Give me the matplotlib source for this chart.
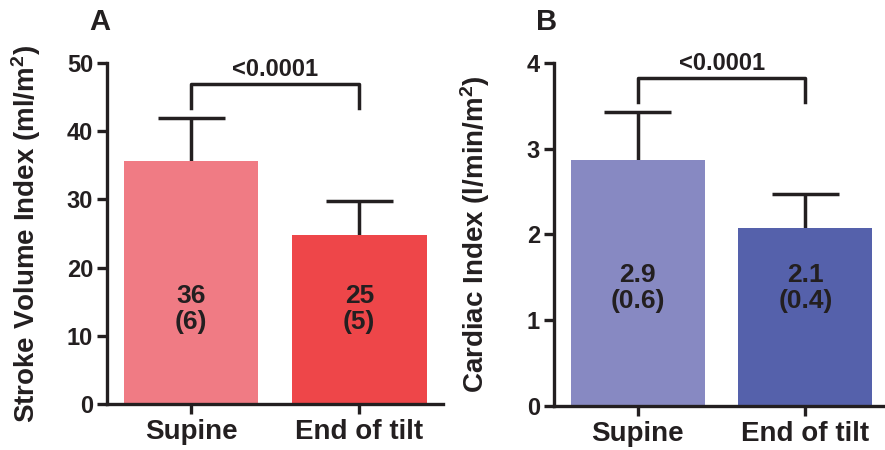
import matplotlib.pyplot as plt
import numpy as np

plt.rcParams['font.family'] = ['Liberation Sans', 'DejaVu Sans']
plt.rcParams['font.weight'] = 'bold'
plt.rcParams['axes.labelweight'] = 'bold'
plt.rcParams['mathtext.fontset'] = 'custom'
plt.rcParams['mathtext.bf'] = 'Liberation Sans:bold'
plt.rcParams['mathtext.rm'] = 'Liberation Sans:bold'
plt.rcParams['mathtext.default'] = 'bf'

ink = '#231f20'

# data
groups = ['Supine', 'End of tilt']
svi_mean = [35.7, 24.8]
svi_sd = [6.2, 4.9]
svi_text = ['36\n(6)', '25\n(5)']
ci_mean = [2.87, 2.08]
ci_sd = [0.56, 0.39]
ci_text = ['2.9\n(0.6)', '2.1\n(0.4)']
p_text = '<0.0001'

fig = plt.figure(figsize=(8.85, 4.5), dpi=100)
axA = fig.add_axes([0.121, 0.102, 0.380, 0.758])
axB = fig.add_axes([0.626, 0.098, 0.373, 0.762])


def panel(ax, means, sds, texts, colors, ylim, yticks, ylabel, xlim,
          text_y, br_y, br_foot, label_x):
    x = np.arange(len(means))
    means = np.array(means)
    sds = np.array(sds)
    ax.bar(x, means, width=0.8, color=colors, zorder=2)
    # upper-only error bars
    ax.vlines(x, means, means + sds, color=ink, lw=2.5, zorder=1)
    ax.hlines(means + sds, x - 0.2, x + 0.2, color=ink, lw=2.5, zorder=1)
    for xi, t in zip(x, texts):
        ax.text(xi, text_y, t, ha='center', va='center', fontsize=19,
                color=ink, linespacing=1.1)
    # significance bracket
    ax.plot([x[0], x[0], x[1], x[1]], [br_foot, br_y, br_y, br_foot],
            color=ink, lw=2.5, clip_on=False)
    ax.text(np.mean(x), br_y + (ylim[1] - ylim[0]) * 0.01, p_text,
            ha='center', va='bottom', fontsize=17, color=ink)
    ax.set_xlim(*xlim)
    ax.set_ylim(*ylim)
    ax.set_yticks(yticks)
    ax.set_xticks(x)
    ax.set_xticklabels(groups, fontsize=20)
    ax.set_ylabel(ylabel, fontsize=20, color=ink)
    ax.yaxis.set_label_coords(label_x, 0.5)
    for s in ['top', 'right']:
        ax.spines[s].set_visible(False)
    for s in ['left', 'bottom']:
        ax.spines[s].set_linewidth(2.4)
        ax.spines[s].set_color(ink)
    ax.tick_params(axis='y', length=7, width=2.4, color=ink, labelsize=17,
                   labelcolor=ink, pad=3)
    ax.tick_params(axis='x', length=7, width=2.4, color=ink,
                   labelcolor=ink, pad=4)


panel(axA, svi_mean, svi_sd, svi_text, ['#f07b84', '#ee4649'],
      (0, 50), [0, 10, 20, 30, 40, 50], r'Stroke Volume Index (ml/m$^2$)',
      (-0.5, 1.5), 14.0, 46.9, 43.4, -0.19)
panel(axB, ci_mean, ci_sd, ci_text, ['#8789c2', '#5561ab'],
      (0, 4), [0, 1, 2, 3, 4], r'Cardiac Index (l/min/m$^2$)',
      (-0.5, 1.47), 1.38, 3.82, 3.55, -0.188)

fig.text(100 / 885, 1 - 22 / 450, 'A', fontsize=21, ha='center', va='center', color=ink)
fig.text(547 / 885, 1 - 22 / 450, 'B', fontsize=21, ha='center', va='center', color=ink)

fig.savefig('out.png', dpi=100)
